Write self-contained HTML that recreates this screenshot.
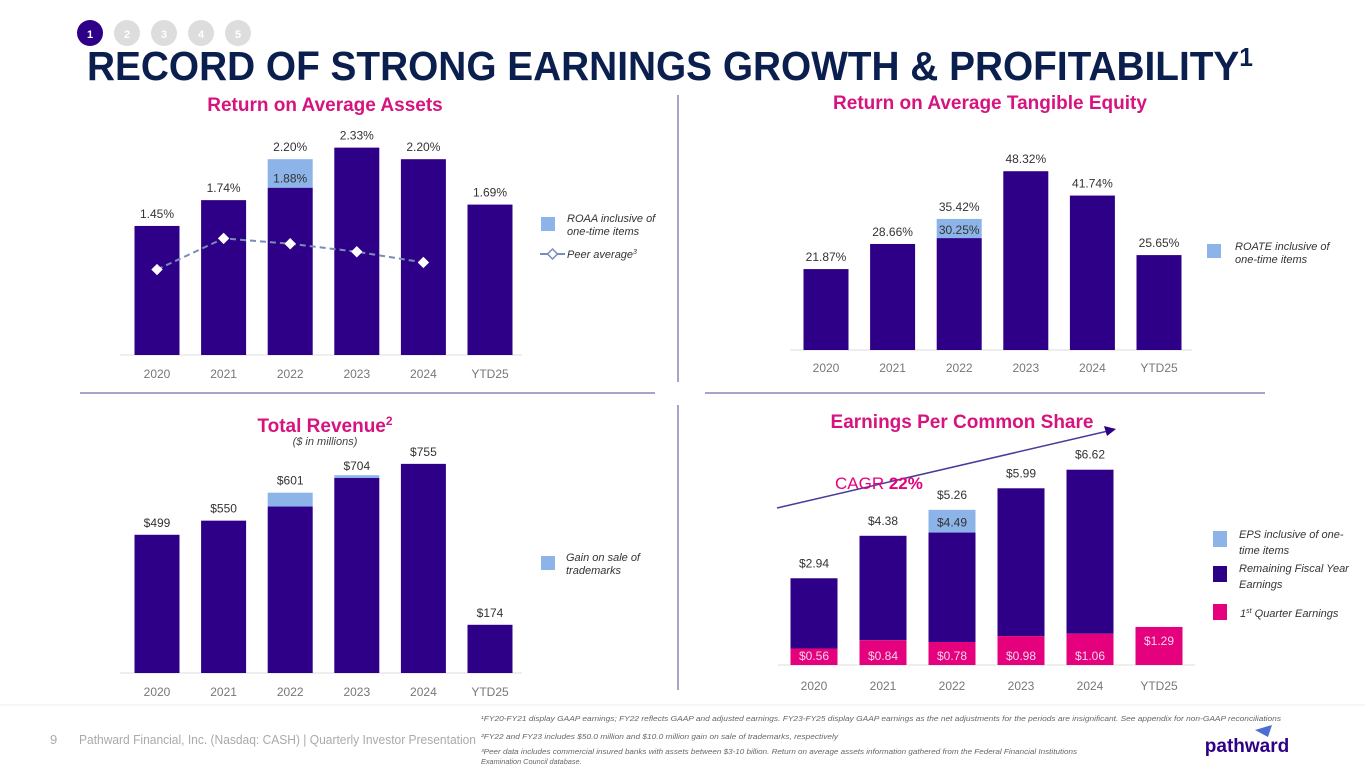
<!DOCTYPE html>
<html><head><meta charset="utf-8"><style>
body{margin:0;width:1365px;height:768px;background:#fff;overflow:hidden;font-family:"Liberation Sans",sans-serif}
svg{position:absolute;left:0;top:0}
</style></head><body>
<svg id="s" width="1365" height="768" xmlns="http://www.w3.org/2000/svg" font-family="Liberation Sans, sans-serif">
<g>
<circle cx="90" cy="33" r="13" fill="#2e0087"/><text x="90" y="38" font-size="11" fill="#fff" text-anchor="middle" font-weight="bold">1</text>
<circle cx="127" cy="33" r="13" fill="#ddd"/><text x="127" y="38" font-size="11" fill="#fff" text-anchor="middle" font-weight="bold">2</text>
<circle cx="164" cy="33" r="13" fill="#ddd"/><text x="164" y="38" font-size="11" fill="#fff" text-anchor="middle" font-weight="bold">3</text>
<circle cx="201" cy="33" r="13" fill="#ddd"/><text x="201" y="38" font-size="11" fill="#fff" text-anchor="middle" font-weight="bold">4</text>
<circle cx="238" cy="33" r="13" fill="#ddd"/><text x="238" y="38" font-size="11" fill="#fff" text-anchor="middle" font-weight="bold">5</text>
</g>
<text x="87" y="80" font-size="41" font-weight="bold" fill="#0b1f4f" textLength="1166" lengthAdjust="spacingAndGlyphs">RECORD OF STRONG EARNINGS GROWTH &amp; PROFITABILITY<tspan font-size="26" dy="-14">1</tspan></text>
<line x1="678" y1="95" x2="678" y2="382" stroke="#8a86b8" stroke-width="1.5"/>
<line x1="678" y1="405" x2="678" y2="690" stroke="#8a86b8" stroke-width="1.5"/>
<line x1="80" y1="393" x2="655" y2="393" stroke="#8a86b8" stroke-width="1.5"/>
<line x1="705" y1="393" x2="1265" y2="393" stroke="#8a86b8" stroke-width="1.5"/>
<line x1="0" y1="705" x2="1365" y2="705" stroke="#eee"/>
<text x="325" y="111" font-size="19" font-weight="bold" fill="#d6137f" text-anchor="middle">Return on Average Assets</text>
<text x="990" y="109" font-size="19" font-weight="bold" fill="#d6137f" text-anchor="middle">Return on Average Tangible Equity</text>
<text x="325" y="432" font-size="19" font-weight="bold" fill="#d6137f" text-anchor="middle">Total Revenue<tspan font-size="12" dy="-7">2</tspan></text>
<text x="325" y="445" font-size="11" font-style="italic" fill="#444" text-anchor="middle">($ in millions)</text>
<text x="962" y="428" font-size="19" font-weight="bold" fill="#d6137f" text-anchor="middle">Earnings Per Common Share</text>
<g id="legends" font-size="11" font-style="italic" fill="#333">
<rect x="541" y="217" width="14" height="14" fill="#8cb4e8"/>
<text x="567" y="222">ROAA inclusive of<tspan x="567" dy="13">one-time items</tspan></text>
<line x1="540" y1="254" x2="565" y2="254" stroke="#7a8db5" stroke-width="2"/>
<path d="M552.5 249 L557.5 254 L552.5 259 L547.5 254Z" fill="#fff" stroke="#7a8db5" stroke-width="1.5"/>
<text x="567" y="258">Peer average<tspan font-size="7" dy="-4">3</tspan></text>
<rect x="1207" y="244" width="14" height="14" fill="#8cb4e8"/>
<text x="1235" y="250">ROATE inclusive of<tspan x="1235" dy="13">one-time items</tspan></text>
<rect x="541" y="556" width="14" height="14" fill="#8cb4e8"/>
<text x="566" y="561">Gain on sale of<tspan x="566" dy="13">trademarks</tspan></text>
<rect x="1213" y="531" width="14" height="16" fill="#8cb4e8"/>
<text x="1239" y="538">EPS inclusive of one-<tspan x="1239" dy="16">time items</tspan></text>
<rect x="1213" y="566" width="14" height="16" fill="#2e0087"/>
<text x="1239" y="572">Remaining Fiscal Year<tspan x="1239" dy="16">Earnings</tspan></text>
<rect x="1213" y="604" width="14" height="16" fill="#e5007d"/>
<text x="1240" y="617">1<tspan font-size="7" dy="-4">st</tspan><tspan dy="4"> Quarter Earnings</tspan></text>
</g>
<line x1="777" y1="508" x2="1108" y2="431" stroke="#4b3a9a" stroke-width="1.5"/>
<path d="M1116 429 L1104 426 L1107 436Z" fill="#2e0087"/>
<text x="835" y="489" font-size="17" fill="#e5007d">CAGR <tspan font-weight="bold">22%</tspan></text>
<text x="50" y="744" font-size="13" fill="#aaa">9</text>
<text x="79" y="744" font-size="13" fill="#aaa" textLength="397" lengthAdjust="spacingAndGlyphs">Pathward Financial, Inc. (Nasdaq: CASH) | Quarterly Investor Presentation</text>
<g font-size="7.3" font-style="italic" fill="#666">
<text x="481" y="721" textLength="800" lengthAdjust="spacingAndGlyphs">¹FY20-FY21 display GAAP earnings; FY22 reflects GAAP and adjusted earnings. FY23-FY25 display GAAP earnings as the net adjustments for the periods are insignificant. See appendix for non-GAAP reconciliations</text>
<text x="481" y="739" textLength="357" lengthAdjust="spacingAndGlyphs">²FY22 and FY23 includes $50.0 million and $10.0 million gain on sale of trademarks, respectively</text>
<text x="481" y="754" textLength="596" lengthAdjust="spacingAndGlyphs">³Peer data includes commercial insured banks with assets between $3-10 billion. Return on average assets information gathered from the Federal Financial Institutions</text>
<text x="481" y="764">Examination Council database.</text>
</g>
<path d="M1255 730 L1272 725 L1268 737Z" fill="#4a6fd0"/>
<text x="1247" y="752" font-size="19" font-weight="bold" fill="#2e0087" text-anchor="middle">pathward</text>
<g id="charts"></g>
</svg>
<script>
const years=["2020","2021","2022","2023","2024","YTD25"];
const roaaBase=[1.45,1.74,1.88,2.33,2.20,1.69];
const roaaExtra=[0,0,0.32,0,0,0];
const roaaLabels=["1.45%","1.74%","2.20%","2.33%","2.20%","1.69%"];
const roaaInner=["","","1.88%","","",""];
const peerAvg=[0.96,1.31,1.25,1.16,1.04];
const roateBase=[21.87,28.66,30.25,48.32,41.74,25.65];
const roateExtra=[0,0,5.17,0,0,0];
const roateLabels=["21.87%","28.66%","35.42%","48.32%","41.74%","25.65%"];
const roateInner=["","","30.25%","","",""];
const revBase=[499,550,601,704,755,174];
const revGain=[0,0,50,10,0,0];
const revLabels=["$499","$550","$601","$704","$755","$174"];
const epsQ1=[0.56,0.84,0.78,0.98,1.06,1.29];
const epsTotal=[2.94,4.38,4.49,5.99,6.62,1.29];
const epsExtra=[0,0,0.77,0,0,0];
const epsLabels=["$2.94","$4.38","$5.26","$5.99","$6.62",""];
const epsInner=["","","$4.49","","",""];
const epsQ1Labels=["$0.56","$0.84","$0.78","$0.98","$1.06","$1.29"];

const NS="http://www.w3.org/2000/svg",G=document.getElementById('charts');
function mk(t,a,p){const e=document.createElementNS(NS,t);for(const k in a)e.setAttribute(k,a[k]);(p||G).appendChild(e);return e;}
function txt(x,y,s,fill,size){const e=mk('text',{x:x,y:y,'text-anchor':'middle','font-size':size||12,fill:fill||'#333'});e.textContent=s;return e;}
function chart(name,x0,step,w,base,scale,axisY,gx1,gx2){
  const xs=i=>x0+i*step, ys=v=>base-v*scale;
  const g=mk('g',{});
  
  
  const l=mk('line',{x1:gx1,x2:gx2,y1:base,y2:base,stroke:'#ddd'},g);
  
  
  years.forEach((y,i)=>{const t=txt(xs(i),axisY,y,'#777',12);
    
    });
  return {xs,ys,w,g};
}
function bar(c,i,v0,v1,fill,name){const r=mk('rect',{x:c.xs(i)-c.w/2,y:c.ys(v1),width:c.w,height:Math.max(0,c.ys(v0)-c.ys(v1)),fill:fill},c.g);
  
  return r;}
// ROAA
const c1=chart('roaa',157,66.6,45,355,89,378,120,522);
years.forEach((y,i)=>{bar(c1,i,0,roaaBase[i],'#2e0087','roaa-bar-'+y);
  if(roaaExtra[i])bar(c1,i,roaaBase[i],roaaBase[i]+roaaExtra[i],'#8cb4e8','roaa-onetime-'+y);
  const t=txt(c1.xs(i),c1.ys(roaaBase[i]+roaaExtra[i])-8,roaaLabels[i]);
  
  
  if(roaaInner[i]){const t2=txt(c1.xs(i),c1.ys(roaaBase[i])-5,roaaInner[i]);
    
    }});
const pl=mk('polyline',{points:peerAvg.map((v,i)=>c1.xs(i)+','+c1.ys(v)).join(' '),fill:'none',stroke:'#7a8db5','stroke-width':2,'stroke-dasharray':'6,4'},c1.g);


peerAvg.forEach((v,i)=>{const x=c1.xs(i),y=c1.ys(v);const p=mk('path',{d:`M${x} ${y-5}L${x+5} ${y}L${x} ${y+5}L${x-5} ${y}Z`,fill:'#fff',stroke:'#fff'},c1.g);
  
  });
// ROATE
const c2=chart('roate',826,66.6,45,350,3.7,372,790,1192);
years.forEach((y,i)=>{bar(c2,i,0,roateBase[i],'#2e0087','roate-bar-'+y);
  if(roateExtra[i])bar(c2,i,roateBase[i],roateBase[i]+roateExtra[i],'#8cb4e8','roate-onetime-'+y);
  const t=txt(c2.xs(i),c2.ys(roateBase[i]+roateExtra[i])-8,roateLabels[i]);
  
  
  if(roateInner[i]){const t2=txt(c2.xs(i),c2.ys(roateBase[i])-4,roateInner[i]);
    
    }});
// Revenue
const c3=chart('revenue',157,66.6,45,673,0.277,696,120,522);
years.forEach((y,i)=>{bar(c3,i,0,revBase[i],'#2e0087','revenue-bar-'+y);
  if(revGain[i])bar(c3,i,revBase[i],revBase[i]+revGain[i],'#8cb4e8','revenue-gain-'+y);
  const lv=revGain[i]>20?revBase[i]+revGain[i]:revBase[i];
  const t=txt(c3.xs(i),c3.ys(lv)-8,revLabels[i]);
  
  });
// EPS
const c4=chart('eps',814,69,47,665,29.5,690,778,1195);
years.forEach((y,i)=>{
  if(epsTotal[i]>epsQ1[i])bar(c4,i,epsQ1[i],epsTotal[i],'#2e0087','eps-remaining-'+y);
  if(epsExtra[i])bar(c4,i,epsTotal[i],epsTotal[i]+epsExtra[i],'#8cb4e8','eps-onetime-'+y);
  bar(c4,i,0,epsQ1[i],'#e5007d','eps-q1-'+y);
  const tq=txt(c4.xs(i),c4.ys(0)-(i==5?20:5),epsQ1Labels[i],'#f6d4ea',12);
  
  
  if(epsLabels[i]){const t=txt(c4.xs(i),c4.ys(epsTotal[i]+epsExtra[i])-11,epsLabels[i]);
    
    }
  if(epsInner[i]){const t2=txt(c4.xs(i),c4.ys(epsTotal[i])-6,epsInner[i]);
    
    }});
</script>
</body></html>
